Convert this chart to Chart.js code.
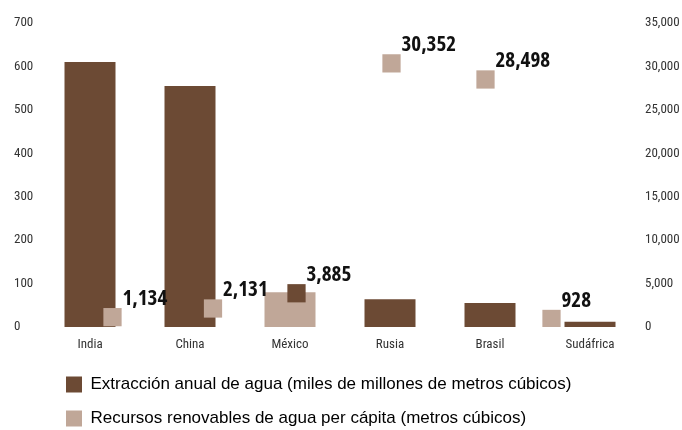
<!DOCTYPE html>
<html>
<head>
<meta charset="utf-8">
<script src="https://cdn.jsdelivr.net/npm/chart.js@4/dist/chart.umd.min.js"></script>
<style>
  html, body { margin: 0; padding: 0; background: #fff; }
  #wrap { width: 682px; height: 430px; }
</style>
</head>
<body>
<div id="wrap"><canvas id="waterChart" width="682" height="430"></canvas></div>
<script>
// ============ datos ============
const countries = ["India", "China", "México", "Rusia", "Brasil", "Sudáfrica"];
const extraction = [610, 555, 80, 64, 55, 12]; // miles de millones de m3
const perCapita = [1134, 2131, 3885, 30352, 28498, 928]; // m3 por persona
const leftTicks = [0, 100, 200, 300, 400, 500, 600, 700];
const rightTicks = [0, 5000, 10000, 15000, 20000, 25000, 30000, 35000];

const extractionLabel = "Extracción anual de agua (miles de millones de metros cúbicos)";
const perCapitaLabel = "Recursos renovables de agua per cápita (metros cúbicos)";

// colores
const DARK = "#6c4a34";
const LIGHT = "#c0a798";

// en el original México tiene los colores invertidos y los cuadros no caen en el centro
const barColors = [DARK, DARK, LIGHT, DARK, DARK, DARK];
const squareColors = [LIGHT, LIGHT, DARK, LIGHT, LIGHT, LIGHT];
const squareShift = [0.225, 0.23, 0.065, 0.015, -0.045, -0.385];

const squarePoints = perCapita.map((v, i) => ({ x: i + squareShift[i], y: v }));

// ============ etiquetas de valores ============
const valueLabels = {
  id: "valueLabels",
  afterDatasetsDraw(chart) {
    const meta = chart.getDatasetMeta(1);
    const ctx = chart.ctx;
    ctx.save();
    ctx.font = "bold condensed 21px 'Open Sans', 'Roboto Condensed', sans-serif";
    ctx.fillStyle = "#111";
    ctx.textAlign = "left";
    ctx.textBaseline = "alphabetic";
    meta.data.forEach((pt, i) => {
      ctx.fillText(perCapita[i].toLocaleString("en-US"), pt.x + 10, pt.y - 12);
    });
    ctx.restore();
  },
};

// mover la leyenda a su sitio
const legendShift = {
  id: "legendShift",
  afterLayout(chart) {
    chart.legend.left += 35;
    chart.legend.top += 5;
  },
};

const tickFont = { family: "'Roboto Condensed', 'Liberation Sans', sans-serif", size: 13 };

window.addEventListener("load", () => {
  const ctx = document.getElementById("waterChart").getContext("2d");
  new Chart(ctx, {
    data: {
      labels: countries,
      datasets: [
        {
          type: "bar",
          label: extractionLabel,
          data: extraction,
          backgroundColor: barColors,
          xAxisID: "x",
          yAxisID: "y",
          barPercentage: 0.51,
          categoryPercentage: 1,
          grouped: false,
          order: 2,
        },
        {
          type: "line",
          label: perCapitaLabel,
          data: squarePoints,
          showLine: false,
          pointStyle: "rect",
          pointRadius: 12.9,
          pointHoverRadius: 12.9,
          pointBorderWidth: 0,
          backgroundColor: LIGHT,
          pointBackgroundColor: squareColors,
          borderColor: "rgba(0,0,0,0)",
          xAxisID: "xs",
          yAxisID: "y2",
          order: 1,
        },
      ],
    },
    options: {
      responsive: false,
      animation: false,
      layout: { padding: { top: 23, left: 14, right: 2, bottom: 0 } },
      plugins: {
        tooltip: { enabled: false },
        legend: {
          display: true,
          position: "bottom",
          align: "start",
          maxHeight: 76,
          labels: {
            boxWidth: 16,
            boxHeight: 16,
            padding: 17,
            color: "#222",
            font: { family: "'Liberation Sans', Arial, sans-serif", size: 17 },
            generateLabels() {
              return [
                { text: extractionLabel, fillStyle: DARK, strokeStyle: DARK, lineWidth: 0, datasetIndex: 0 },
                { text: perCapitaLabel, fillStyle: LIGHT, strokeStyle: LIGHT, lineWidth: 0, datasetIndex: 1 },
              ];
            },
          },
        },
      },
      scales: {
        x: {
          type: "category",
          grid: { display: false, drawTicks: false },
          border: { display: false },
          ticks: { font: tickFont, color: "#333", padding: 10 },
          afterFit(axis) {
            axis.height = 27;
          },
        },
        xs: {
          type: "linear",
          display: false,
          min: -0.5,
          max: 5.5,
        },
        y: {
          position: "left",
          min: 0,
          max: 700,
          afterBuildTicks(axis) {
            axis.ticks = leftTicks.map((v) => ({ value: v }));
          },
          afterFit(axis) {
            axis.width = 26;
          },
          grid: { display: false, drawTicks: false },
          border: { display: false },
          ticks: { font: tickFont, color: "#333", padding: 6, crossAlign: "far" },
        },
        y2: {
          position: "right",
          min: 0,
          max: 35000,
          afterBuildTicks(axis) {
            axis.ticks = rightTicks.map((v) => ({ value: v }));
          },
          afterFit(axis) {
            axis.width = 40;
          },
          grid: { display: false, drawTicks: false },
          border: { display: false },
          ticks: {
            font: tickFont,
            color: "#333",
            padding: 5,
            callback: (v) => v.toLocaleString("en-US"),
          },
        },
      },
    },
    plugins: [valueLabels, legendShift],
  });
});
</script>
</body>
</html>
